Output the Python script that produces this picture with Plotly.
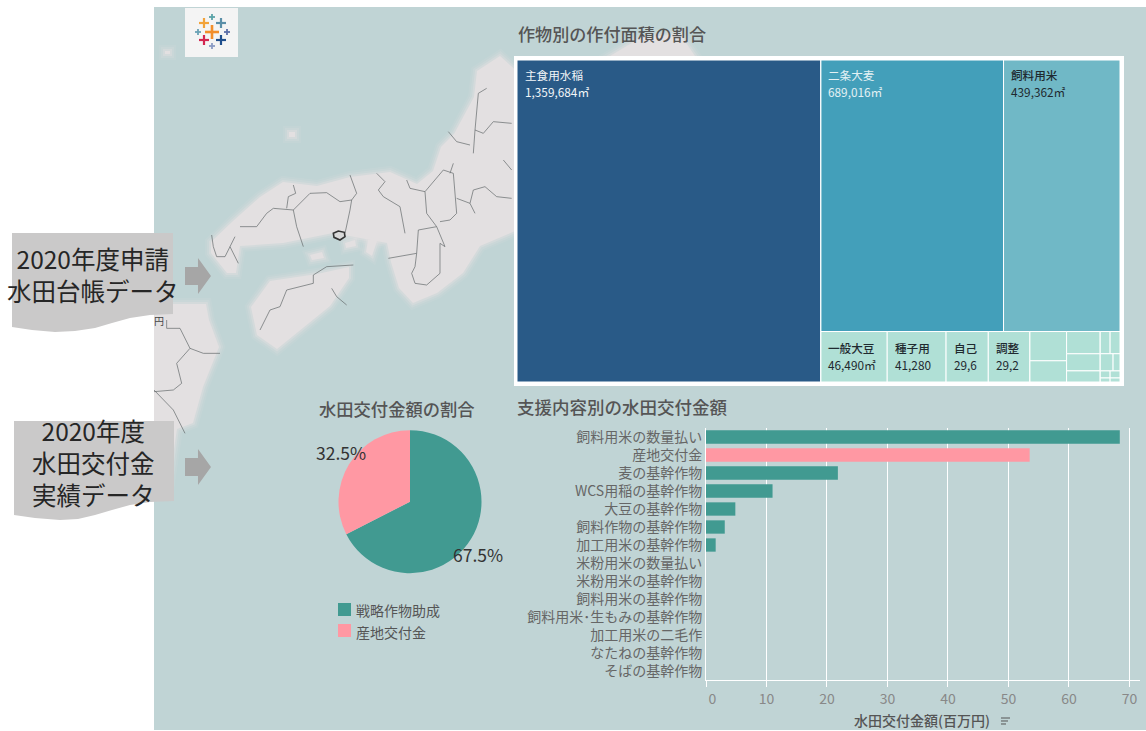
import plotly.graph_objects as go

W, H = 1146, 731
FONT = "Noto Sans CJK JP"

# ---- data ----
tm_ids = ["root", "main", "rest", "top", "bottom",
          "二条大麦", "飼料用米",
          "一般大豆", "種子用", "自己", "調整",
          "g1", "g1a", "g1b",
          "g2", "g2a", "g2b", "g2c",
          "g3", "r1", "r1a", "r1b", "r2", "r2a", "r2b", "r3", "r3a", "r3b", "r4", "r4a", "r4b"]
tm_parents = ["", "root", "root", "rest", "rest",
              "top", "top",
              "bottom", "bottom", "bottom", "bottom",
              "bottom", "g1", "g1",
              "bottom", "g2", "g2", "g2",
              "bottom", "g3", "r1", "r1", "g3", "r2", "r2", "g3", "r3", "r3", "g3", "r4", "r4"]
tm_values = [0, 1359684, 0, 0, 0,
             689016, 439362,
             46490, 41280, 29600, 29200,
             0, 14900, 10800,
             0, 10400, 8000, 5200,
             0, 0, 3050, 3050, 0, 3070, 1650, 0, 970, 970, 0, 550, 550]
C_MAIN, C_B, C_F, C_S = "#295a87", "#439fba", "#70b8c6", "#b0e0d6"
tm_colors = [C_S, C_MAIN, C_S, C_S, C_S, C_B, C_F] + [C_S] * 24

tm_labels = [("主食用水稲", "1,359,684㎡", "#f2f6f8"), ("二条大麦", "689,016㎡", "#e3f1f4"),
             ("飼料用米", "439,362㎡", "#1f2a30"), ("一般大豆", "46,490㎡", "#1f2a30"),
             ("種子用", "41,280", "#1f2a30"), ("自己", "29,6", "#1f2a30"), ("調整", "29,2", "#1f2a30")]

bar_cats = ["飼料用米の数量払い", "産地交付金", "麦の基幹作物", "WCS用稲の基幹作物", "大豆の基幹作物",
            "飼料作物の基幹作物", "加工用米の基幹作物", "米粉用米の数量払い", "米粉用米の基幹作物",
            "飼料用米の基幹作物", "飼料用米･生もみの基幹作物", "加工用米の二毛作", "なたねの基幹作物", "そばの基幹作物"]
bar_vals = [68.4, 53.5, 21.8, 11.0, 4.85, 3.1, 1.6, 0, 0, 0, 0, 0, 0, 0]
TEAL, PINK = "#419a91", "#ff98a3"
bar_cols = [TEAL, PINK] + [TEAL] * 12
x_ticks = [0, 10, 20, 30, 40, 50, 60, 70]
x_ticktext = ["\u00a0\u00a0\u00a0\u00a00", "10", "20", "30", "40", "50", "60", "70"]

pie_labels = ["戦略作物助成", "産地交付金"]
pie_vals = [67.5, 32.5]

# ---- helpers (pixel -> paper) ----
px = lambda x: x / W
py = lambda y: 1 - y / H
def path(pts, close=True):
    s = "M" + " L".join(f"{px(x):.5f},{py(y):.5f}" for x, y in pts)
    return s + (" Z" if close else "")
def rect(x0, y0, x1, y1, color, **kw):
    return dict(type="rect", xref="paper", yref="paper", x0=px(x0), x1=px(x1), y0=py(y1), y1=py(y0),
                fillcolor=color, line=dict(width=0), layer="below", **kw)
def poly(pts, color, **kw):
    return dict(type="path", xref="paper", yref="paper", path=path(pts), fillcolor=color,
                line=dict(width=0), layer="below", **kw)
def line(pts, color="#646a6c", width=0.7):
    return dict(type="path", xref="paper", yref="paper", path=path(pts, False),
                line=dict(color=color, width=width), layer="below")
def txt(x, y, s, size=12, color="#555", anchor="left", weight=None):
    return dict(xref="paper", yref="paper", x=px(x), y=py(y), text=s, showarrow=False, xanchor=anchor,
                yanchor="middle", font=dict(family=FONT, size=size, color=color, weight=weight or 400),
                borderpad=0, borderwidth=0)
def z5(pts):
    return [(150 + x / 3, y / 3) for x, y in pts]
def z3(pts):
    return [(x / 3, 220 + y / 3) for x, y in pts]

shapes = [rect(154, 7, W, 730, "#c0d4d5")]

# land
LAND = "#e3e0e1"
honshu = [(211,242),(233,221),(260,197),(283,182),(317,186),(350,177),(390,172),(417,184),(433,171),(441,147),
          (454,134),(474,97),(477,71),(500,56),(520,74),(520,229),(480,246),(463,273),(437,293),(413,303),
          (399,288),(391,262),(387,243),(333,233),(283,243),(240,246),(236,273),(227,273),(211,253)]
shikoku = [(251,307),(270,281),(317,274),(349,267),(349,278),(330,306),(277,349),(257,335)]
kyushu = [(150,317),(173,304),(206,304),(209,320),(219,347),(203,387),(193,423),(177,429),(169,483),(150,483)]
north = [(610,56),(640,38),(680,34),(695,56)]
islands = [[(289,132),(295,132),(295,137),(289,137)], [(165,51),(170,51),(170,54),(165,54)],
           [(345,243),(355,240),(356,246),(346,248)], [(368,240),(378,238),(372,256),(366,252)],
           [(310,255),(322,252),(324,258),(312,260)]]
for land in [honshu, shikoku, kyushu, north] + islands:
    for w_, o_ in [(12, 0.12), (8, 0.22), (4, 0.4)]:
        g = poly(land, LAND, opacity=o_)
        g["line"] = dict(width=w_, color=LAND)
        shapes.append(g)
    shapes.append(poly(land, LAND))

# boundaries
for seg in [
    [(270,680),(320,680),(350,640),(370,625),(430,630),(480,580),(530,578),(570,605),(605,600),(600,630),(585,700)],
    [(430,630),(440,680),(460,740)], [(410,625),(415,590),(437,580),(430,555)], [(605,600),(620,580),(600,525)],
    [(185,705),(190,740),(200,770),(225,770),(240,740),(255,710)], [(240,740),(265,790)],
    [(680,520),(705,545),(685,570),(700,590),(750,620),(765,700)],
    [(770,540),(780,565),(825,575),(830,640),(860,680),(805,690),(800,760),(795,800),(785,820),(795,850),(830,855),(870,820),(870,730),(885,740),(860,680)],
    [(800,760),(715,775)], [(825,575),(880,510),(910,520),(920,640),(900,660),(870,665)], [(910,490),(900,520)],
    [(920,595),(960,610),(970,570),(1005,560),(1040,590),(1085,595)], [(960,610),(975,640)],
    [(1010,265),(985,280),(975,390),(1000,400),(1030,365),(1085,370)], [(975,390),(970,460)],
    [(895,395),(920,425),(960,435)], [(1060,480),(1085,510)],
    [(330,990),(360,930),(390,920),(410,870),(490,850),(490,825),(530,800),(610,795)],
    [(545,865),(560,890),(590,915)],
]:
    shapes.append(line(z5(seg)))
for seg in [
    [(500,300),(500,325),(540,325),(570,385),(610,400),(660,400)],
    [(570,385),(530,430),(545,490),(520,510),(462,515)], [(462,510),(520,570),(555,640)],
]:
    shapes.append(line(z3(seg)))
shapes.append(dict(type="path", xref="paper", yref="paper", layer="below",
                   path=path(z5([(550,700),(565,693),(583,697),(585,710),(570,720),(552,712)])),
                   line=dict(color="#333", width=1.6), fillcolor="#d9d9d9"))

# clear anything that spills left of the map panel
shapes.append(rect(0, 0, 154, H, "#ffffff"))

# logo
shapes.append(rect(185, 8, 238, 57, "#f4f4f4"))
for (cx, cy, r, c, w) in [(212,32,7,"#f28e2b",2.6),(204,23,5,"#f2a33a",2.2),(221,23,5,"#5b8fa8",2.2),
                          (204,40,5,"#d3264f",2.2),(221,40,5,"#1f4e8c",2.2),(212,17,3,"#5ba3a8",1.8),
                          (198,32,3,"#6ba2b5",1.8),(227,32,3,"#5b6ea8",1.8),(212,46,3,"#8c9cc4",1.8)]:
    shapes.append(line([(cx-r,cy),(cx+r,cy)], c, w))
    shapes.append(line([(cx,cy-r),(cx,cy+r)], c, w))

# banners + arrows
GB = "#cac9c9"
shapes.append(poly([(12,233),(173,233),(173,314),(150,315),(130,318),(112,323),(95,328),(75,331),(55,332),(32,330),(12,327)], GB))
shapes.append(poly([(14,421),(174,421),(174,501),(150,502),(130,505),(112,510),(95,515),(78,519),(60,520),(35,518),(14,515)], GB))
for cy in (276, 467):
    shapes.append(poly([(185,cy-9),(198,cy-9),(198,cy-18),(211,cy),(198,cy+18),(198,cy+9),(185,cy+9)], "#a6a6a6"))

# treemap frame
shapes.append(rect(514, 56, 1124, 386, "#ffffff"))

# pie legend swatches + sort icon
shapes.append(rect(338, 603, 351, 616, TEAL))
shapes.append(rect(338, 624, 351, 637, PINK))
for y, x1 in [(718, 1010), (721, 1008), (724, 1006)]:
    shapes.append(line([(1001, y), (x1, y)], "#555", 1))

anns = [
    txt(518, 33, "作物別の作付面積の割合", 17.1, "#555", weight=500),
    txt(517, 406, "支援内容別の水田交付金額", 17.5, "#555", weight=500),
    txt(319, 408, "水田交付金額の割合", 17.3, "#555", weight=500),
    txt(356, 610, pie_labels[0], 14, "#555"),
    txt(356, 632, pie_labels[1], 14, "#555"),
    txt(922, 720, "水田交付金額(百万円)", 14, "#555", "center", 500),
    txt(154, 320, "円", 10, "#444"),
    txt(93, 274.5, "2020年度申請<br>水田台帳データ", 24.5, "#262626", "center"),
    txt(93, 463, "2020年度<br>水田交付金<br>実績データ", 24.5, "#262626", "center"),
    txt(341, 452, f"{pie_vals[1]}%", 17.5, "#333", "center"),
    txt(478, 554, f"{pie_vals[0]}%", 17.5, "#333", "center"),
]
tm_pos = [(525,75,91), (828,75,91), (1011,75,91), (828,348,364), (895,348,364), (954,348,364), (996,348,364)]
for i, ((name, val, col), (x, y1, y2)) in enumerate(zip(tm_labels, tm_pos)):
    anns.append(txt(x, y1, name, 11.6, col, weight=500 if i >= 2 else 400))
    anns.append(txt(x, y2, val, 11.8, col))

fig = go.Figure()
fig.add_trace(go.Bar(
    y=bar_cats, x=bar_vals, orientation="h", marker=dict(color=bar_cols, line=dict(width=0)),
    width=0.74, showlegend=False, hoverinfo="x+y"))
fig.add_trace(go.Treemap(
    ids=tm_ids, labels=tm_ids, parents=tm_parents, values=tm_values, branchvalues="remainder",
    domain=dict(x=[px(517), px(1120)], y=[py(382), py(60)]),
    tiling=dict(packing="slice-dice", pad=0), pathbar=dict(visible=False), textinfo="none", maxdepth=-1,
    marker=dict(colors=tm_colors, line=dict(color="#ffffff", width=1), pad=dict(t=0, l=0, r=0, b=0)),
    root=dict(color=C_S), sort=False))
fig.add_trace(go.Pie(
    labels=pie_labels, values=pie_vals, sort=False, direction="clockwise", rotation=0,
    textinfo="none", showlegend=False, marker=dict(colors=[TEAL, PINK], line=dict(width=0)),
    domain=dict(x=[px(338.5), px(481.5)], y=[py(573.2), py(430.2)])))

fig.update_layout(
    width=W, height=H, margin=dict(l=0, r=0, t=0, b=0, autoexpand=False),
    paper_bgcolor="#ffffff", plot_bgcolor="rgba(0,0,0,0)", font=dict(family=FONT),
    shapes=shapes, annotations=anns, showlegend=False,
    xaxis=dict(domain=[px(706), px(1140)], range=[0, 71.74], tickmode="array", tickvals=x_ticks,
               ticktext=x_ticktext, showgrid=True, gridcolor="#ffffff", gridwidth=1, zeroline=False,
               showline=True, linecolor="#ffffff", linewidth=1, ticks="outside", ticklen=6, tickcolor="#ffffff",
               tickfont=dict(family=FONT, size=14, color="#888888")),
    yaxis=dict(domain=[py(680), py(428)], range=[13.5, -0.5], type="category", categoryorder="array",
               categoryarray=bar_cats, showgrid=False, zeroline=False, showline=True, linecolor="#ffffff",
               linewidth=1, ticks="", ticklabelstandoff=0,
               tickfont=dict(family=FONT, size=14, color="#666666")),
)
fig.write_html("out.html", config=dict(displayModeBar=False),
               post_script="document.body.style.margin='0';document.documentElement.style.overflow='hidden';")
